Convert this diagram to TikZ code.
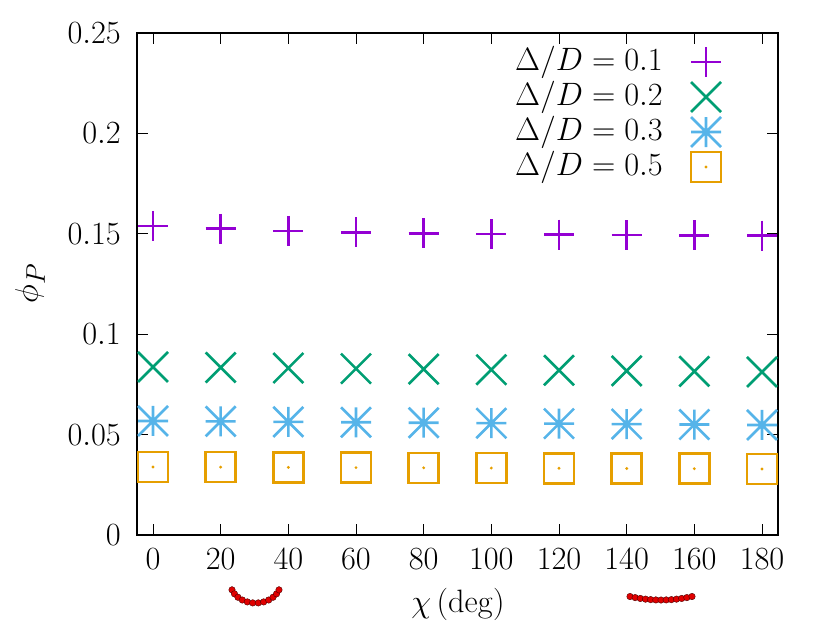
\documentclass[tikz,border=0pt]{standalone}
\usepackage{amsmath}
\usepackage{graphicx}
\definecolor{cA}{HTML}{9400D3}
\definecolor{cB}{HTML}{009E73}
\definecolor{cC}{HTML}{56B4E9}
\definecolor{cD}{HTML}{E69F00}
\definecolor{cR}{HTML}{E00000}
\newcommand{\bigt}[1]{\scalebox{1.3}{#1}}
\tikzset{
  lab/.style={font=\fontsize{24.88}{26}\selectfont, inner sep=0pt},
  pl/.pic={\draw[line width=2.6pt,cA] (-15,0)--(15,0) (0,-15)--(0,15);},
  cr/.pic={\draw[line width=2.6pt,cB] (-15,-15)--(15,15) (-15,15)--(15,-15);},
  st/.pic={\draw[line width=2.6pt,cC] (-15,0)--(15,0) (0,-15)--(0,15) (-15,-15)--(15,15) (-15,15)--(15,-15);},
  sq/.pic={\draw[line width=2.6pt,cD] (-15,-15) rectangle (15,15); \fill[cD] (0,0) circle (1.6);},
  bead/.style={circle,fill=cR,draw=black!70!red,line width=0.4pt,minimum size=6.5pt,inner sep=0pt}
}
\begin{document}
\begin{tikzpicture}[x=1pt,y=-1pt]
\useasboundingbox (0,0) rectangle (830,625);
\pgfmathsetmacro{\xs}{3.3833}
\pgfmathsetmacro{\ys}{2008}
% ticks
\foreach \v in {0,20,...,180}{
  \pgfmathsetmacro{\px}{153+\v*\xs}
  \draw[line width=1pt] (\px,535)--(\px,524) (\px,33)--(\px,44);
  \node[lab,anchor=base] (xl\v) at (\px,569) {\bigt{$\v$}};
}
\foreach \v/\t in {0/0,0.05/0.05,0.1/0.1,0.15/0.15,0.2/0.2,0.25/0.25}{
  \pgfmathsetmacro{\py}{535-\v*\ys}
  \draw[line width=1pt] (137,\py)--(148,\py) (778,\py)--(767,\py);
  \node[lab,anchor=east] (yl\t) at (121,\py) {\bigt{$\t$}};
}
\draw[line width=1.5pt] (137,33) rectangle (778,535);
% data
\foreach \v [count=\i from 0] in {0,20,...,180}{
  \pgfmathsetmacro{\px}{153+\v*\xs}
  \pgfmathsetmacro{\ya}{535-(0.1539-0.005*(1-exp(-\v/60)))*\ys}
  \pgfmathsetmacro{\yb}{535-(0.0837-0.0025*\v/180)*\ys}
  \pgfmathsetmacro{\yc}{535-(0.0568-0.002*\v/180)*\ys}
  \pgfmathsetmacro{\yd}{535-(0.0339-0.001*\v/180)*\ys}
  \pic at (\px,\ya) {pl};
  \pic at (\px,\yb) {cr};
  \pic at (\px,\yc) {st};
  \pic at (\px,\yd) {sq};
}
% legend
\node[lab,anchor=east] (k1) at (663,62) {\bigt{$\Delta/D=0.1$}};
\node[lab,anchor=east] (k2) at (663,97) {\bigt{$\Delta/D=0.2$}};
\node[lab,anchor=east] (k3) at (663,132) {\bigt{$\Delta/D=0.3$}};
\node[lab,anchor=east] (k4) at (663,167) {\bigt{$\Delta/D=0.5$}};
\pic at (706,62) {pl};
\pic at (706,97) {cr};
\pic at (706,132) {st};
\pic at (706,167) {sq};
% axis labels
\node[lab] (xlab) at (458,604) {\bigt{$\chi\,(\mathrm{deg})$}};
\node[lab,rotate=90] (ylab) at (30,283) {\bigt{$\phi_P$}};
% bead chains
\foreach \a in {0,...,11}{
  \pgfmathsetmacro{\ang}{200+\a*140/11}
  \node[bead] (b\a) at ({255.5+25*cos(\ang)},{583-20*sin(\ang)}) {};
}
\foreach \a in {0,...,12}{
  \pgfmathsetmacro{\bx}{630+\a*62/12}
  \node[bead] (c\a) at (\bx,{596.5+3.5*(1-((\a-6)/6)^2)}) {};
}
\end{tikzpicture}
\end{document}
